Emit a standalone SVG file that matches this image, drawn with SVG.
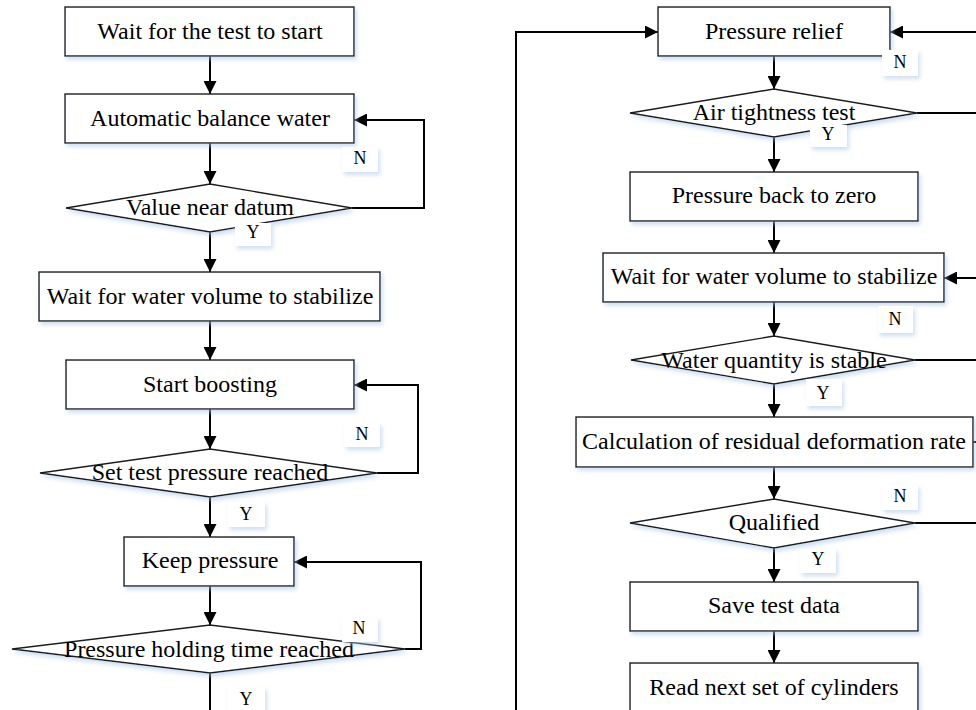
<svg xmlns="http://www.w3.org/2000/svg" width="976" height="710" viewBox="0 0 976 710">
<defs>
  <marker id="arr" markerUnits="userSpaceOnUse" markerWidth="13" markerHeight="13" refX="13" refY="6.5" orient="auto">
    <path d="M0,0 L13,6.5 L0,13 z" fill="#000"/>
  </marker>
  <filter id="sh" x="-10%" y="-20%" width="130%" height="160%">
    <feDropShadow dx="2" dy="3" stdDeviation="2" flood-color="#a9c4e6" flood-opacity="0.55"/>
  </filter>
</defs>
<style>
  .box{fill:#fff;stroke:#1a1a1a;stroke-width:1.4;filter:url(#sh)}
  .t{font-family:"Liberation Serif","Times New Roman",serif;font-size:24px;fill:#000;text-anchor:middle}
  .lbl{fill:#fff;filter:url(#sh)}
  .lt{font-family:"Liberation Serif","Times New Roman",serif;font-size:18px;fill:#000;text-anchor:middle}
  .c{fill:none;stroke:#000;stroke-width:2}
  .ca{fill:none;stroke:#000;stroke-width:2;marker-end:url(#arr)}
</style>
<rect width="976" height="710" fill="#fff"/>

<g id="connectors">
  <line class="ca" x1="210" y1="56" x2="210" y2="94"/>
  <line class="ca" x1="210" y1="143" x2="210" y2="184"/>
  <line class="ca" x1="210" y1="232" x2="210" y2="272"/>
  <line class="ca" x1="210" y1="321" x2="210" y2="360"/>
  <line class="ca" x1="210" y1="409" x2="210" y2="449"/>
  <line class="ca" x1="210" y1="497" x2="210" y2="537"/>
  <line class="ca" x1="210" y1="586" x2="210" y2="625"/>
  <line class="c" x1="210" y1="673" x2="210" y2="712"/>
  <path class="ca" d="M352,208 H424 V120 H354"/>
  <path class="ca" d="M377,473 H418 V385 H354"/>
  <path class="ca" d="M405,649 H421 V562 H294"/>
  <path class="ca" d="M516,712 V32 H658"/>
  <line class="ca" x1="980" y1="32" x2="890" y2="32"/>
  <line class="ca" x1="774" y1="56" x2="774" y2="89"/>
  <line class="ca" x1="774" y1="137" x2="774" y2="172"/>
  <line class="ca" x1="774" y1="221" x2="774" y2="253"/>
  <line class="ca" x1="774" y1="302" x2="774" y2="336"/>
  <line class="ca" x1="774" y1="384" x2="774" y2="417"/>
  <line class="ca" x1="774" y1="467" x2="774" y2="499"/>
  <line class="ca" x1="774" y1="548" x2="774" y2="582"/>
  <line class="ca" x1="774" y1="631" x2="774" y2="663"/>
  <line class="c" x1="917" y1="113" x2="980" y2="113"/>
  <line class="ca" x1="980" y1="278" x2="944" y2="278"/>
  <line class="c" x1="915" y1="360" x2="980" y2="360"/>
  <line class="c" x1="973" y1="442" x2="980" y2="442"/>
  <line class="c" x1="915" y1="523" x2="980" y2="523"/>
</g>

<g id="n1"><rect class="box" x="65" y="7" width="289" height="49"/><text class="t" x="210" y="39">Wait for the test to start</text></g>
<g id="n2"><rect class="box" x="65" y="94" width="289" height="49"/><text class="t" x="210" y="126">Automatic balance water</text></g>
<g id="n3"><polygon class="box" points="66,208 210,184 352,208 210,232"/><text class="t" x="210" y="215">Value near datum</text></g>
<g id="n4"><rect class="box" x="39" y="272" width="341" height="49"/><text class="t" x="210" y="304">Wait for water volume to stabilize</text></g>
<g id="n5"><rect class="box" x="66" y="360" width="288" height="49"/><text class="t" x="210" y="392">Start boosting</text></g>
<g id="n6"><polygon class="box" points="40,473 210,449 377,473 210,497"/><text class="t" x="210" y="480">Set test pressure reached</text></g>
<g id="n7"><rect class="box" x="124" y="537" width="170" height="49"/><text class="t" x="210" y="568">Keep pressure</text></g>
<g id="n8"><polygon class="box" points="12,649 210,625 405,649 210,673"/><text class="t" x="209" y="657">Pressure holding time reached</text></g>

<g id="r1"><rect class="box" x="658" y="7" width="232" height="49"/><text class="t" x="774" y="39">Pressure relief</text></g>
<g id="r2"><polygon class="box" points="630,113 774,89 917,113 774,137"/><text class="t" x="774" y="120">Air tightness test</text></g>
<g id="r3"><rect class="box" x="630" y="172" width="288" height="49"/><text class="t" x="774" y="203">Pressure back to zero</text></g>
<g id="r4"><rect class="box" x="603" y="253" width="341" height="49"/><text class="t" x="774" y="284">Wait for water volume to stabilize</text></g>
<g id="r5"><polygon class="box" points="631,360 774,336 915,360 774,384"/><text class="t" x="774" y="368">Water quantity is stable</text></g>
<g id="r6"><rect class="box" x="576" y="417" width="397" height="50"/><text class="t" x="774" y="449">Calculation of residual deformation rate</text></g>
<g id="r7"><polygon class="box" points="630,523 774,499 915,523 774,548"/><text class="t" x="774" y="530">Qualified</text></g>
<g id="r8"><rect class="box" x="630" y="582" width="288" height="49"/><text class="t" x="774" y="613">Save test data</text></g>
<g id="r9"><rect class="box" x="630" y="663" width="288" height="52"/><text class="t" x="774" y="695">Read next set of cylinders</text></g>

<g id="labels">
  <rect class="lbl" x="342" y="147" width="36" height="25"/><text class="lt" x="360" y="164">N</text>
  <rect class="lbl" x="235" y="223" width="36" height="23"/><text class="lt" x="253" y="238">Y</text>
  <rect class="lbl" x="344" y="423" width="36" height="24"/><text class="lt" x="362" y="440">N</text>
  <rect class="lbl" x="228" y="502" width="37" height="25"/><text class="lt" x="246" y="520">Y</text>
  <rect class="lbl" x="342" y="617" width="36" height="25"/><text class="lt" x="359" y="634">N</text>
  <rect class="lbl" x="228" y="687" width="37" height="25"/><text class="lt" x="246" y="705">Y</text>
  <rect class="lbl" x="882" y="50" width="36" height="26"/><text class="lt" x="900" y="68">N</text>
  <rect class="lbl" x="810" y="125" width="37" height="22"/><text class="lt" x="828" y="140">Y</text>
  <rect class="lbl" x="878" y="306" width="35" height="27"/><text class="lt" x="895" y="325">N</text>
  <rect class="lbl" x="806" y="379" width="36" height="27"/><text class="lt" x="823" y="399">Y</text>
  <rect class="lbl" x="882" y="485" width="36" height="25"/><text class="lt" x="900" y="502">N</text>
  <rect class="lbl" x="800" y="549" width="36" height="24"/><text class="lt" x="818" y="565">Y</text>
</g>
</svg>
